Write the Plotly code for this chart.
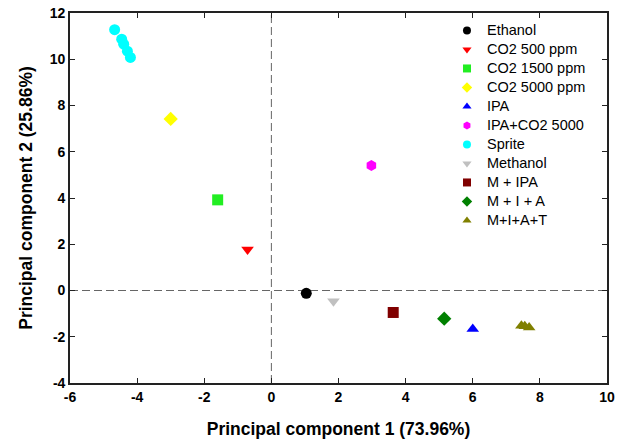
import plotly.graph_objects as go

names = ["Ethanol", "CO2 500 ppm", "CO2 1500 ppm", "CO2 5000 ppm", "IPA",
         "IPA+CO2 5000", "Sprite", "Methanol", "M + IPA", "M + I + A", "M+I+A+T"]
pc1 = [[1.04], [-0.71], [-1.6], [-3.0], [6.0], [2.98],
       [-4.67, -4.46, -4.4, -4.29, -4.2], [1.85], [3.63], [5.15], [7.45, 7.55, 7.68]]
pc2 = [[-0.12], [1.77], [3.92], [7.42], [-1.66], [5.41],
       [11.28, 10.87, 10.65, 10.35, 10.08], [-0.47], [-0.95], [-1.22], [-1.52, -1.55, -1.6]]
colors = ["#000000", "#ff0000", "#22ee22", "#ffff00", "#0000ff", "#ff00ff",
          "#00ffff", "#c0c0c0", "#800000", "#008000", "#808000"]
symbols = ["circle", "triangle-down", "square", "diamond", "triangle-up", "hexagon",
           "circle", "triangle-down", "square", "diamond", "triangle-up"]
x_ticks = list(range(-6, 11, 2))
y_ticks = list(range(-4, 13, 2))

FONT = "Liberation Sans, Arial"

fig = go.Figure()
# data marks
for n, x, y, c, s in zip(names, pc1, pc2, colors, symbols):
    fig.add_trace(go.Scatter(x=x, y=y, mode="markers", name=n, legendgroup=n,
                             showlegend=False,
                             marker=dict(color=c, symbol=s, size=11, line=dict(width=0))))
# legend entries (smaller symbols, as in the reference)
for n, c, s in zip(names, colors, symbols):
    fig.add_trace(go.Scatter(x=[None], y=[None], mode="markers", legendgroup=n,
                             name=f'<span style="font-size:14.5px">{n}</span>',
                             marker=dict(color=c, symbol=s, size=8, line=dict(width=0))))

dash_line = dict(color="#666666", width=1, dash="8px,4px")
fig.add_shape(type="line", x0=0, x1=0, y0=y_ticks[0], y1=y_ticks[-1], xref="x", yref="y",
              line=dash_line, layer="below")
fig.add_shape(type="line", x0=x_ticks[0], x1=x_ticks[-1], y0=0, y1=0, xref="x", yref="y",
              line=dash_line, layer="below")

axis_common = dict(showgrid=False, zeroline=False, showline=True, linecolor="#222222",
                   linewidth=1.6, mirror="ticks", ticks="inside", ticklen=5, tickwidth=1,
                   tickcolor="#222222", automargin=False, ticklabeloverflow="allow",
                   tickfont=dict(family=FONT, size=14, color="#000000", weight="bold"))
title_font = dict(family=FONT, size=17.5, color="#000000", weight="bold")

fig.update_xaxes(range=[x_ticks[0], x_ticks[-1]], tickvals=x_ticks,
                 ticktext=[str(v) for v in x_ticks],
                 title=dict(text="Principal component 1 (73.96%)", font=title_font,
                            standoff=19),
                 **axis_common)
fig.update_yaxes(range=[y_ticks[0], y_ticks[-1]], tickvals=y_ticks,
                 ticktext=[str(v) for v in y_ticks],
                 title=dict(text="Principal component 2 (25.86%)", font=title_font,
                            standoff=13),
                 **axis_common)

fig.update_layout(width=626, height=443, plot_bgcolor="white", paper_bgcolor="white",
                  margin=dict(l=70, r=19, t=13, b=60),
                  legend=dict(x=0.702, y=0.992, xanchor="left", yanchor="top",
                              bgcolor="rgba(0,0,0,0)", borderwidth=0,
                              font=dict(family=FONT, size=12, color="#000000"),
                              itemwidth=30, tracegroupgap=0, itemclick=False))

# remove the page's default 8px body margin so the figure fills the window
fig.write_html("out.html", config={"displayModeBar": False},
               post_script="document.body.style.margin='0';document.body.style.overflow='hidden';")
